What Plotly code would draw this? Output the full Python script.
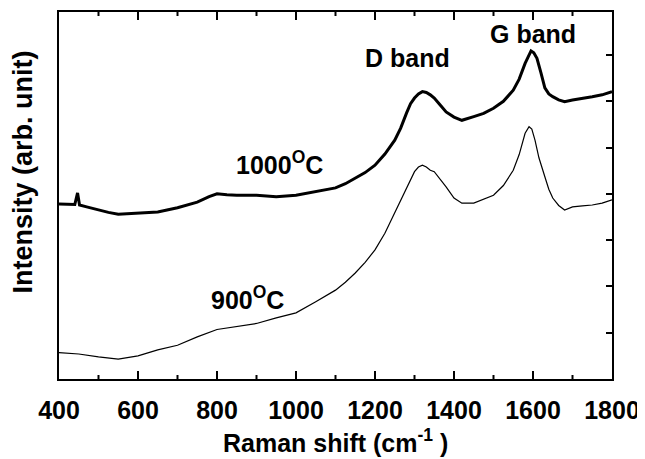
import plotly.graph_objects as go

# Raman shift (cm^-1) and intensities (arb. units)
x_1000 = [400, 420, 440, 447, 452, 470, 500, 525, 550, 575, 600, 650, 700, 750, 780, 800, 825,
          850, 900, 950, 1000, 1050, 1100, 1125, 1150, 1175, 1200, 1225, 1250, 1265, 1280,
          1290, 1300, 1310, 1320, 1330, 1340, 1350, 1365, 1380, 1400, 1420, 1450, 1475, 1500,
          1525, 1550, 1565, 1580, 1590, 1595, 1602, 1610, 1620, 1630, 1640, 1650, 1665, 1680,
          1700, 1725, 1750, 1775, 1800]
y_1000 = [3.78, 3.77, 3.77, 4.02, 3.76, 3.72, 3.65, 3.60, 3.56, 3.57, 3.59, 3.61, 3.70, 3.82,
          3.94, 4.00, 3.98, 3.97, 3.97, 3.94, 3.97, 4.05, 4.13, 4.22, 4.34, 4.46, 4.62, 4.86,
          5.16, 5.42, 5.75, 5.95, 6.07, 6.16, 6.21, 6.19, 6.14, 6.07, 5.92, 5.77, 5.66, 5.59,
          5.67, 5.74, 5.85, 6.00, 6.24, 6.48, 6.82, 7.00, 7.09, 7.05, 6.93, 6.62, 6.29, 6.16,
          6.10, 6.03, 5.99, 6.03, 6.06, 6.10, 6.14, 6.21]

x_900 = [400, 450, 500, 550, 600, 650, 700, 750, 800, 850, 900, 950, 1000, 1050, 1100, 1125,
         1150, 1175, 1200, 1225, 1250, 1265, 1280, 1290, 1300, 1310, 1320, 1330, 1340, 1350,
         1365, 1380, 1400, 1420, 1450, 1475, 1500, 1525, 1550, 1565, 1580, 1590, 1597, 1605,
         1615, 1630, 1640, 1650, 1665, 1680, 1700, 1725, 1750, 1775, 1800]
y_900 = [0.57, 0.54, 0.48, 0.43, 0.50, 0.63, 0.73, 0.91, 1.07, 1.13, 1.20, 1.32, 1.43, 1.67,
         1.92, 2.09, 2.29, 2.52, 2.79, 3.15, 3.59, 3.88, 4.15, 4.33, 4.48, 4.58, 4.62, 4.58,
         4.51, 4.48, 4.32, 4.15, 3.91, 3.80, 3.80, 3.88, 3.97, 4.18, 4.51, 4.85, 5.31, 5.45,
         5.40, 5.16, 4.78, 4.37, 4.10, 3.91, 3.75, 3.65, 3.72, 3.74, 3.76, 3.80, 3.87]

x_major = [400, 600, 800, 1000, 1200, 1400, 1600, 1800]
x_minor = [500, 700, 900, 1100, 1300, 1500, 1700]
y_ticks = [1, 2, 3, 4, 5, 6, 7]

FONT = "Liberation Sans, Arial, sans-serif"
X_RANGE = [400, 1800]
Y_RANGE = [0, 7.93]
PLOT_H = 367  # plot-area height in pixels

fig = go.Figure()
fig.add_trace(go.Scatter(x=x_1000, y=y_1000, mode="lines",
                         line=dict(color="black", width=3), showlegend=False))
fig.add_trace(go.Scatter(x=x_900, y=y_900, mode="lines",
                         line=dict(color="black", width=1.2), showlegend=False))
# invisible traces that carry the extra tick axes (top, right)
for xa, ya in [("x", "y2"), ("x2", "y")]:
    fig.add_trace(go.Scatter(x=[400], y=[0], xaxis=xa, yaxis=ya, mode="markers",
                             marker=dict(opacity=0), showlegend=False, hoverinfo="skip"))

base = dict(ticks="inside", tickwidth=2, tickcolor="black", showgrid=False,
            zeroline=False, automargin=False)

fig.update_layout(
    width=637, height=451,
    margin=dict(l=51, r=33, t=4, b=80, autoexpand=False),
    paper_bgcolor="white", plot_bgcolor="white",
    font=dict(family=FONT, color="black"),
    xaxis=dict(range=X_RANGE, tickvals=x_major, ticklen=8,
               showline=True, linewidth=2, linecolor="black",
               tickfont=dict(family=FONT, size=25, weight="bold", color="black"),
               ticklabelstandoff=8, **base),
    xaxis2=dict(range=X_RANGE, overlaying="x", side="top", anchor="y", tickvals=x_major,
                ticklen=8, showticklabels=False, showline=True, linewidth=2,
                linecolor="black", **base),
    yaxis=dict(range=Y_RANGE, showticklabels=False, ticks="", showgrid=False,
               zeroline=False, automargin=False, showline=True, linewidth=2,
               linecolor="black"),
    yaxis2=dict(range=Y_RANGE, overlaying="y", side="right", anchor="x",
                tickvals=y_ticks, ticklen=6, showticklabels=False, showline=True,
                linewidth=2, linecolor="black", **base),
)

# tick marks along the bottom and top edges, placed at the tick values on the x scale
tick_line = dict(color="black", width=2)
for vals, length in [(x_major, 8), (x_minor, 4)]:
    frac = length / PLOT_H
    for v in vals:
        if v in (X_RANGE[0], X_RANGE[1]):
            continue
        fig.add_shape(type="line", xref="x", yref="paper", x0=v, x1=v, y0=0, y1=frac,
                      line=tick_line, layer="above")
        fig.add_shape(type="line", xref="x", yref="paper", x0=v, x1=v, y0=1 - frac, y1=1,
                      line=tick_line, layer="above")

ann_font = dict(family=FONT, size=25, weight="bold", color="black")
fig.add_annotation(x=1283, y=6.93, text="D band", showarrow=False, font=ann_font)
fig.add_annotation(x=1600, y=7.45, text="G band", showarrow=False, font=ann_font)
fig.add_annotation(x=957, y=4.66, text="1000<sup>O</sup>C", showarrow=False, font=ann_font)
fig.add_annotation(x=878, y=1.76, text="900<sup>O</sup>C", showarrow=False, font=ann_font)

fig.add_annotation(xref="paper", yref="paper", x=0.5, y=-0.168, xanchor="center",
                   yanchor="middle", text="Raman shift (cm<sup>-1</sup> )", showarrow=False,
                   font=dict(family=FONT, size=25, weight="bold", color="black"))
fig.add_annotation(xref="paper", yref="paper", x=-0.065, y=0.563, xanchor="center",
                   yanchor="middle", textangle=-90, text="Intensity (arb. unit)",
                   showarrow=False,
                   font=dict(family=FONT, size=27, weight="bold", color="black"))

fig.write_html("out.html")
